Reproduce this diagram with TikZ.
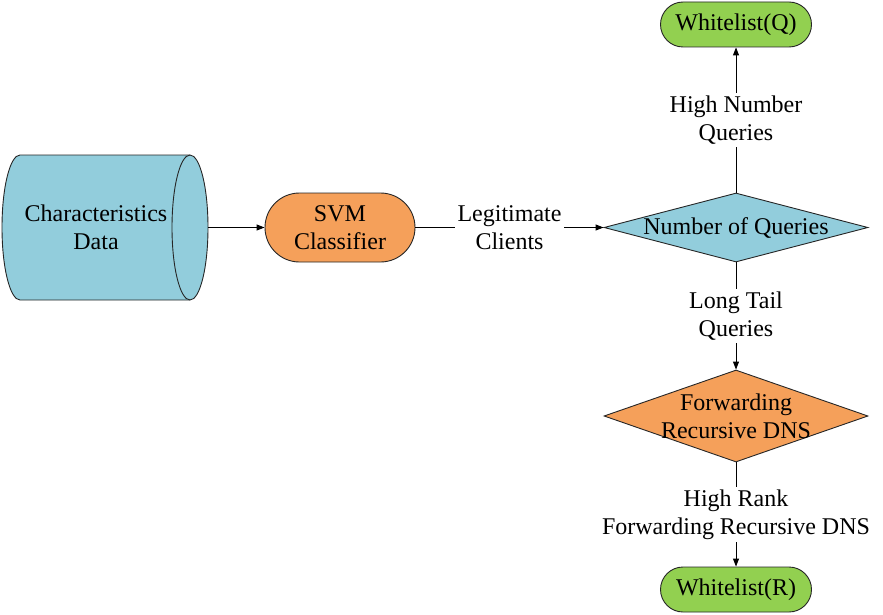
\documentclass[tikz,border=0pt]{standalone}
\usepackage{fontspec}
\setmainfont{Liberation Serif}
\usetikzlibrary{shapes.geometric,shapes.misc,arrows.meta}
\definecolor{cyl}{HTML}{92CDDC}
\definecolor{org}{HTML}{F5A05A}
\definecolor{grn}{HTML}{92D050}
\tikzset{
  txt/.style={font=\fontsize{24}{28}\selectfont, align=center, inner sep=0pt},
  stad/.style={rounded rectangle, draw=black!85, line width=0.9pt, inner sep=0pt},
  dia/.style={diamond, draw=black!85, line width=0.9pt, inner sep=0pt},
  conn/.style={line width=0.9pt, -{Triangle[length=8pt,width=6pt]}},
  lbl/.style={txt, fill=white, inner sep=3pt},
}
\begin{document}
\begin{tikzpicture}[x=1pt,y=1pt]
\useasboundingbox (0,0) rectangle (883,-615);
% cylinder
\draw[fill=cyl, draw=black!85, line width=0.9pt] (20,-155) -- (190,-155)
  arc[start angle=90, end angle=-90, x radius=18, y radius=72.5] -- (20,-300)
  arc[start angle=270, end angle=90, x radius=18, y radius=72.5] -- cycle;
\draw[draw=black!85, line width=0.9pt] (190,-155) arc[start angle=90, end angle=270, x radius=18, y radius=72.5];
\node[txt] (data) at (96,-227.5) {Characteristics\\Data};
\coordinate (dataR) at (208,-227.5);
% SVM
\node[stad, fill=org, minimum width=150pt, minimum height=69pt] (svm) at (340,-227.5) {};
\node[txt] (svmt) at (svm) {SVM\\Classifier};
% diamonds
\node[dia, fill=cyl, minimum width=264pt, minimum height=69pt] (noq) at (736,-227.5) {};
\node[txt] (noqt) at (noq) {Number of Queries};
\node[dia, fill=org, minimum width=264pt, minimum height=92pt] (fwd) at (736,-416) {};
\node[txt] (fwdt) at (fwd) {Forwarding\\Recursive DNS};
% whitelists
\node[stad, fill=grn, minimum width=151pt, minimum height=45pt] (wq) at (736,-24.5) {};
\node[txt] (wqt) at (wq) {Whitelist(Q)};
\node[stad, fill=grn, minimum width=151pt, minimum height=45pt] (wr) at (736,-589.5) {};
\node[txt] (wrt) at (wr) {Whitelist(R)};
% connectors
\draw[conn] (dataR) -- (svm.west);
\draw[conn] (svm.east) -- node[lbl] (l1) {Legitimate\\Clients} (noq.west);
\draw[conn] (noq.north) -- node[lbl] (l2) {High Number\\Queries} (wq.south);
\draw[conn] (noq.south) -- node[lbl] (l3) {Long Tail\\Queries} (fwd.north);
\draw[conn] (fwd.south) -- node[lbl] (l4) {High Rank\\Forwarding Recursive DNS} (wr.north);
\end{tikzpicture}
\end{document}
